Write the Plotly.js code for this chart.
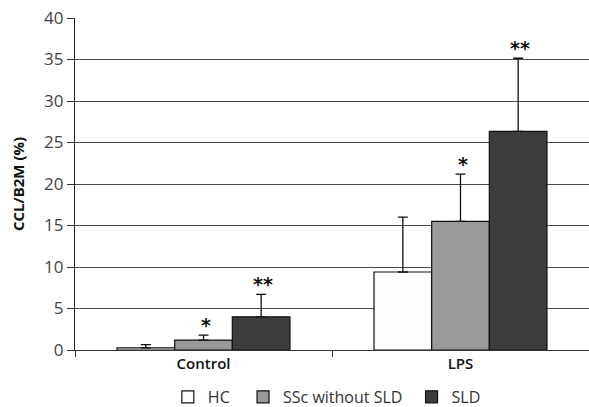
<!DOCTYPE html>
<html>
<head>
<meta charset="utf-8">
<script src="https://cdn.plot.ly/plotly-3.0.1.min.js"></script>
<style>html,body{margin:0;padding:0;background:#fff;}</style>
</head>
<body>
<div id="chart" style="width:589px;height:407px;"></div>
<script>
const categories = ["Control", "LPS"];
const seriesNames = ["HC", "SSc without SLD", "SLD"];
const hcValues = [0.25, 9.4];
const hcErrors = [0.4, 6.6];
const sscValues = [1.2, 15.5];
const sscErrors = [0.6, 5.7];
const sldValues = [4.0, 26.35];
const sldErrors = [2.7, 8.8];
const hcStars = ["", ""];
const sscStars = ["*", "*"];
const sldStars = ["**", "**"];

const colors = ["#fdfdfd", "#999999", "#3c3c3c"];
const values = [hcValues, sscValues, sldValues];
const errors = [hcErrors, sscErrors, sldErrors];
const stars = [hcStars, sscStars, sldStars];

const W = 589, H = 407;
const margin = {l: 75, r: 0, t: 18, b: 57, autoexpand: false};
const bargap = 0.327;
const plotW = W - margin.l - margin.r;
const catW = plotW / categories.length;
const barW = catW * (1 - bargap) / seriesNames.length;

const pad = ["\u00a0\u00a0", "\u00a0", ""];
const traces = seriesNames.map((name, i) => ({
  type: "bar",
  name: name + pad[i],
  x: categories,
  y: values[i],
  marker: {color: colors[i], line: {color: "#111", width: 1.2}},
  error_y: {type: "data", array: errors[i], arrayminus: categories.map(() => 0), symmetric: false,
            color: "#111", thickness: 1.3, width: 5},
  hoverinfo: "skip"
}));

const annotations = [];
seriesNames.forEach((name, i) => {
  categories.forEach((c, j) => {
    if (stars[i][j]) {
      annotations.push({
        x: c, y: values[i][j] + errors[i][j], xref: "x", yref: "y",
        xshift: (i - 1) * barW + 2, yshift: -3,
        text: "<b>" + stars[i][j] + "</b>", showarrow: false, yanchor: "bottom",
        font: {family: "DejaVu Sans, sans-serif", size: 19, color: "#111"}
      });
    }
  });
});

const layout = {
  width: W, height: H,
  margin: margin,
  paper_bgcolor: "#fff", plot_bgcolor: "#fff",
  barmode: "group", bargap: bargap, bargroupgap: 0,
  showlegend: true,
  legend: {orientation: "h", x: 0.49, xanchor: "center", y: -0.09, yanchor: "top",
           font: {family: "Open Sans, sans-serif", size: 16, color: "#333"},
           itemclick: false, traceorder: "normal", itemwidth: 30},
  xaxis: {
    type: "category", tickson: "boundaries", ticks: "outside", ticklen: 6, tickcolor: "#333",
    showline: true, linecolor: "#333", linewidth: 1, showgrid: false, automargin: false,
    tickfont: {family: "Open Sans, sans-serif", size: 15, color: "#111", weight: 600},
    fixedrange: true
  },
  yaxis: {
    range: [0, 40], dtick: 5, ticks: "outside", ticklen: 7, tickcolor: "#333",
    showline: true, linecolor: "#222", linewidth: 1.2, automargin: false,
    showgrid: true, gridcolor: "#4a4a4a", gridwidth: 1, zeroline: false,
    tickfont: {family: "Open Sans, sans-serif", size: 17, color: "#444"},
    title: {text: "CCL/B2M (%)", font: {family: "Open Sans, sans-serif", size: 15, color: "#111", weight: 700}, standoff: 15},
    fixedrange: true
  },
  annotations: annotations
};

Plotly.newPlot("chart", traces, layout, {displayModeBar: false, staticPlot: true});
</script>
</body>
</html>
